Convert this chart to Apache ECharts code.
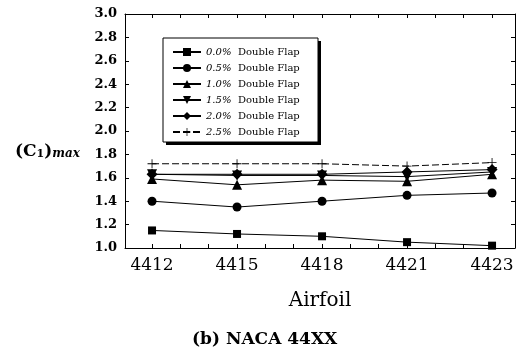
<!DOCTYPE html>
<html>
<head>
<meta charset="utf-8">
<script src="https://cdn.jsdelivr.net/npm/echarts@6/dist/echarts.min.js"></script>
<style>
  html, body { margin: 0; padding: 0; background: #fff; }
  #chart { width: 518px; height: 353px; }
</style>
</head>
<body>
<div id="chart"></div>
<script>
// Airfoil sections along the horizontal axis (plotted at equal spacing)
const airfoils = ['4412', '4415', '4418', '4421', '4423'];

// Maximum lift coefficient for each double-flap setting
const flapLabels = ['0.0%', '0.5%', '1.0%', '1.5%', '2.0%', '2.5%'];
const cl00 = [1.15, 1.12, 1.10, 1.05, 1.02];
const cl05 = [1.40, 1.35, 1.40, 1.45, 1.47];
const cl10 = [1.59, 1.54, 1.58, 1.57, 1.63];
const cl15 = [1.63, 1.62, 1.62, 1.61, 1.65];
const cl20 = [1.63, 1.63, 1.63, 1.65, 1.67];
const cl25 = [1.72, 1.72, 1.72, 1.70, 1.73];

const yTicks = ['1.0', '1.2', '1.4', '1.6', '1.8', '2.0', '2.2', '2.4', '2.6', '2.8', '3.0'];

const seriesValues = [cl00, cl05, cl10, cl15, cl20, cl25];
const plusPath = 'path://M-0.09,-1H0.09V-0.09H1V0.09H0.09V1H-0.09V0.09H-1V-0.09H-0.09Z';
const markers = [
  { symbol: 'rect', size: 8, rotate: 0 },
  { symbol: 'circle', size: 9, rotate: 0 },
  { symbol: 'triangle', size: 10, rotate: 0 },
  { symbol: 'triangle', size: 10, rotate: 180 },
  { symbol: 'diamond', size: 11, rotate: 0 },
  { symbol: plusPath, size: 9, rotate: 0 }
];

const serif = '"DejaVu Serif", "Liberation Serif", serif';

// tick marks every third of a category step, as on the printed frame
const xMin = -0.318, xMax = 4.27;
const xTickVals = [];
for (let k = 0; k / 3 <= xMax; k++) xTickVals.push(k / 3);

const series = seriesValues.map((vals, s) => ({
  name: flapLabels[s] + ' Double Flap',
  type: 'line',
  xAxisIndex: 0,
  yAxisIndex: 0,
  data: vals.map((v, i) => [i, v]),
  symbol: markers[s].symbol,
  symbolSize: markers[s].size,
  symbolRotate: markers[s].rotate,
  itemStyle: { color: '#000' },
  lineStyle: { color: '#000', width: 1, type: s === 5 ? [7, 3] : 'solid' },
  emphasis: { disabled: true },
  silent: true,
  animation: false
}));

const frameAxis = {
  axisLine: { show: true, onZero: false, lineStyle: { color: '#000', width: 1 } },
  splitLine: { show: false }
};

// legend frame with a hard drop shadow on the right and bottom
const legendBox = { x: 163, y: 38, w: 155, h: 104 };

const option = {
  backgroundColor: '#fff',
  animation: false,
  grid: { left: 125, right: 3, top: 14, bottom: 105, containLabel: false },
  xAxis: [
    Object.assign({
      type: 'value', position: 'bottom', min: xMin, max: xMax,
      name: 'Airfoil', nameLocation: 'middle', nameGap: 43,
      nameTextStyle: { fontFamily: serif, fontSize: 20, color: '#000' },
      axisTick: { show: true, inside: true, length: 4, customValues: xTickVals, lineStyle: { color: '#000' } },
      axisLabel: {
        customValues: [0, 1, 2, 3, 4],
        formatter: v => airfoils[Math.round(v)],
        fontFamily: serif, fontSize: 17, color: '#000', margin: 9
      }
    }, frameAxis),
    Object.assign({
      type: 'value', position: 'top', min: xMin, max: xMax,
      axisTick: { show: true, inside: true, length: 4, customValues: xTickVals, lineStyle: { color: '#000' } },
      axisLabel: { show: false }
    }, frameAxis)
  ],
  yAxis: [
    Object.assign({
      type: 'value', position: 'left', min: 1, max: 3, interval: 0.2,
      axisTick: { show: true, inside: true, length: 4, lineStyle: { color: '#000' } },
      axisLabel: {
        formatter: v => yTicks[Math.round((v - 1) / 0.2)],
        fontFamily: serif, fontSize: 13, fontWeight: 'bold', color: '#000', margin: 8
      }
    }, frameAxis),
    Object.assign({
      type: 'value', position: 'right', min: 1, max: 3, interval: 0.2,
      axisTick: { show: true, inside: true, length: 4, lineStyle: { color: '#000' } },
      axisLabel: { show: false }
    }, frameAxis)
  ],
  legend: {
    orient: 'vertical',
    left: legendBox.x, top: legendBox.y,
    padding: [8, 10, 6, 9],
    itemGap: 4,
    itemWidth: 28,
    itemHeight: 10,
    selectedMode: false,
    data: series.map(s => s.name),
    formatter: name => {
      const parts = name.split(' ');
      return '{i|' + parts[0] + '}  {n|' + parts.slice(1).join(' ') + '}';
    },
    textStyle: {
      color: '#000',
      lineHeight: 12,
      rich: {
        i: { fontFamily: serif, fontStyle: 'italic', fontSize: 10, lineHeight: 12, color: '#000' },
        n: { fontFamily: serif, fontSize: 10, lineHeight: 12, color: '#000' }
      }
    }
  },
  graphic: [
    {
      type: 'rect', z: 1,
      shape: { x: legendBox.x + 3, y: legendBox.y + 3, width: legendBox.w, height: legendBox.h },
      style: { fill: '#000' }
    },
    {
      type: 'rect', z: 2,
      shape: { x: legendBox.x, y: legendBox.y, width: legendBox.w, height: legendBox.h },
      style: { fill: '#fff', stroke: '#000', lineWidth: 1 }
    },
    {
      type: 'text', left: 15, top: 143,
      style: {
        text: '{a|(C}{s|1}{a|)}{m|max}',
        rich: {
          a: { fontFamily: serif, fontSize: 17, fontWeight: 'bold', fill: '#000', verticalAlign: 'bottom' },
          s: { fontFamily: serif, fontSize: 11, fontWeight: 'bold', fill: '#000', padding: [6, 0, 0, 0], verticalAlign: 'bottom' },
          m: { fontFamily: serif, fontSize: 12, fontStyle: 'italic', fontWeight: 'bold', fill: '#000', padding: [6, 0, 0, 0], verticalAlign: 'bottom' }
        }
      }
    },
    {
      type: 'text', left: 192, top: 331,
      style: {
        text: '(b) NACA 44XX',
        fontFamily: serif, fontSize: 17, fontWeight: 'bold', fill: '#000'
      }
    }
  ],
  series: series
};

const chart = echarts.init(document.getElementById('chart'), null, { renderer: 'canvas' });
chart.setOption(option);
</script>
</body>
</html>
